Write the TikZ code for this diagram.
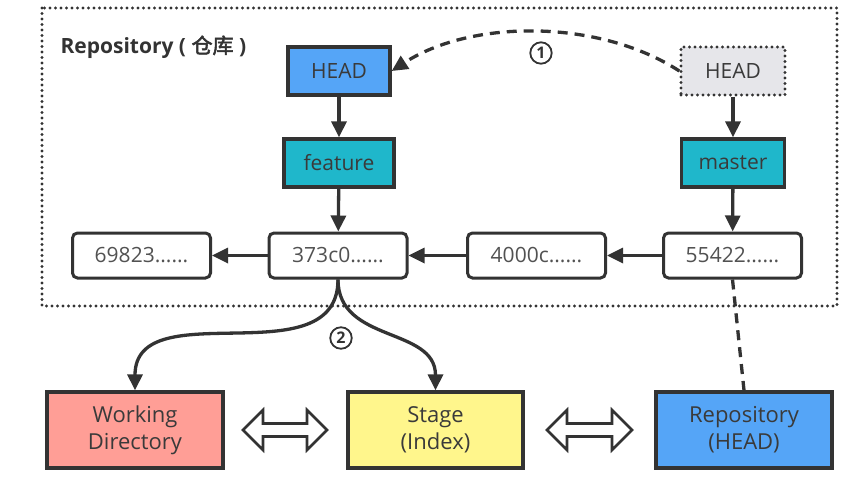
\documentclass[tikz,border=0pt]{standalone}
\usepackage{fontspec}
\setmainfont{Open Sans}
\newfontfamily\cjk{Noto Sans CJK SC}[AutoFakeBold=2.5]
\usetikzlibrary{arrows.meta}
\definecolor{edge}{HTML}{333333}
\definecolor{txt}{HTML}{3A3A3A}
\definecolor{headblue}{HTML}{55A5F7}
\definecolor{tealc}{HTML}{1FB7CB}
\definecolor{pinkc}{HTML}{FF9E96}
\definecolor{yellowc}{HTML}{FFF68C}
\definecolor{grayc}{HTML}{E6E6EA}
\tikzset{
  box/.style={draw=edge, line width=3.3pt, minimum height=48pt, inner sep=0pt,
    font=\fontsize{21}{24}\selectfont, text=txt},
  commit/.style={draw=edge, line width=3pt, rounded corners=5pt, fill=white,
    minimum width=138pt, minimum height=45pt, inner sep=0pt,
    font=\fontsize{21}{24}\selectfont, text=edge!85},
  big/.style={draw=edge, line width=3.3pt, minimum width=176pt, minimum height=76pt,
    inner sep=0pt, align=center, font=\fontsize{22}{27}\selectfont, text=txt},
  conn/.style={draw=edge, line width=3.3pt, -{Triangle[length=16pt,width=15pt]}},
  dconn/.style={draw=edge, line width=3.3pt, dash pattern=on 10pt off 7pt},
  marker/.style={circle, draw=edge, line width=1.8pt, inner sep=2.4pt,
    font=\bfseries\fontsize{16}{16}\selectfont, text=edge},
  dots/.style={dash pattern=on 0pt off 5.5pt, line cap=round},
  hollow/.style={draw=edge, line width=2.6pt, fill=white, line join=miter},
}
\begin{document}
\begin{tikzpicture}[x=1pt,y=-1pt]
\useasboundingbox (0,0) rectangle (864,498);
% repository frame
\draw[edge, line width=3.2pt, dots] (42,8) rectangle (837,306);
\node[anchor=west, font=\bfseries\fontsize{21}{24}\selectfont, text=edge] (title) at (57,47)
  {Repository ( {\cjk\textbf{仓库}} )};
% top row
\node[box, fill=headblue, minimum width=102pt] (headA) at (339,71) {HEAD};
\node[box, fill=grayc, dots, minimum width=104pt] (headB) at (733,71) {HEAD};
\node[box, fill=tealc, minimum width=110pt] (feature) at (339,163) {feature};
\node[box, fill=tealc, minimum width=103pt] (master) at (733,163) {master};
% commits
\node[commit] (c1) at (141.5,255.5) {69823......};
\node[commit] (c2) at (338,255.5) {373c0......};
\node[commit] (c3) at (536.5,255.5) {4000c......};
\node[commit] (c4) at (732.5,255.5) {55422......};
% bottom
\node[big, fill=pinkc] (wd) at (135,430) {Working\\Directory};
\node[big, fill=yellowc, minimum width=175pt] (stage) at (435.5,430) {Stage\\(Index)};
\node[big, fill=headblue] (repo) at (744,430) {Repository\\(HEAD)};
% arrows
\draw[conn] (headA) -- (feature);
\draw[conn] (feature) -- (c2);
\draw[conn] (headB) -- (master);
\draw[conn] (master) -- (c4);
\draw[conn] (c2) -- (c1);
\draw[conn] (c3) -- (c2);
\draw[conn] (c4) -- (c3);
\draw[dconn, -{Triangle[length=16pt,width=15pt]}] (headB.west)
  .. controls +(-80,-52) and +(80,-52) .. (headA.east);
\node[marker] (m1) at (541,53) {1};
\draw[conn] (c2.south) to[out=-90,in=90, looseness=1.1] (wd.north);
\draw[conn] (c2.south) to[out=-90,in=90, looseness=1.1] (stage.north);
\node[marker] (m2) at (341,338) {2};
\draw[dconn] (c4.south) -- (repo.north);
% hollow double arrows
\foreach \a/\b in {243/327, 547/632} {
  \draw[hollow] (\a,430) -- (\a+20,410) -- (\a+20,423.5) -- (\b-20,423.5) -- (\b-20,410)
    -- (\b,430) -- (\b-20,450) -- (\b-20,436.5) -- (\a+20,436.5) -- (\a+20,450) -- cycle;
}
\end{tikzpicture}
\end{document}
